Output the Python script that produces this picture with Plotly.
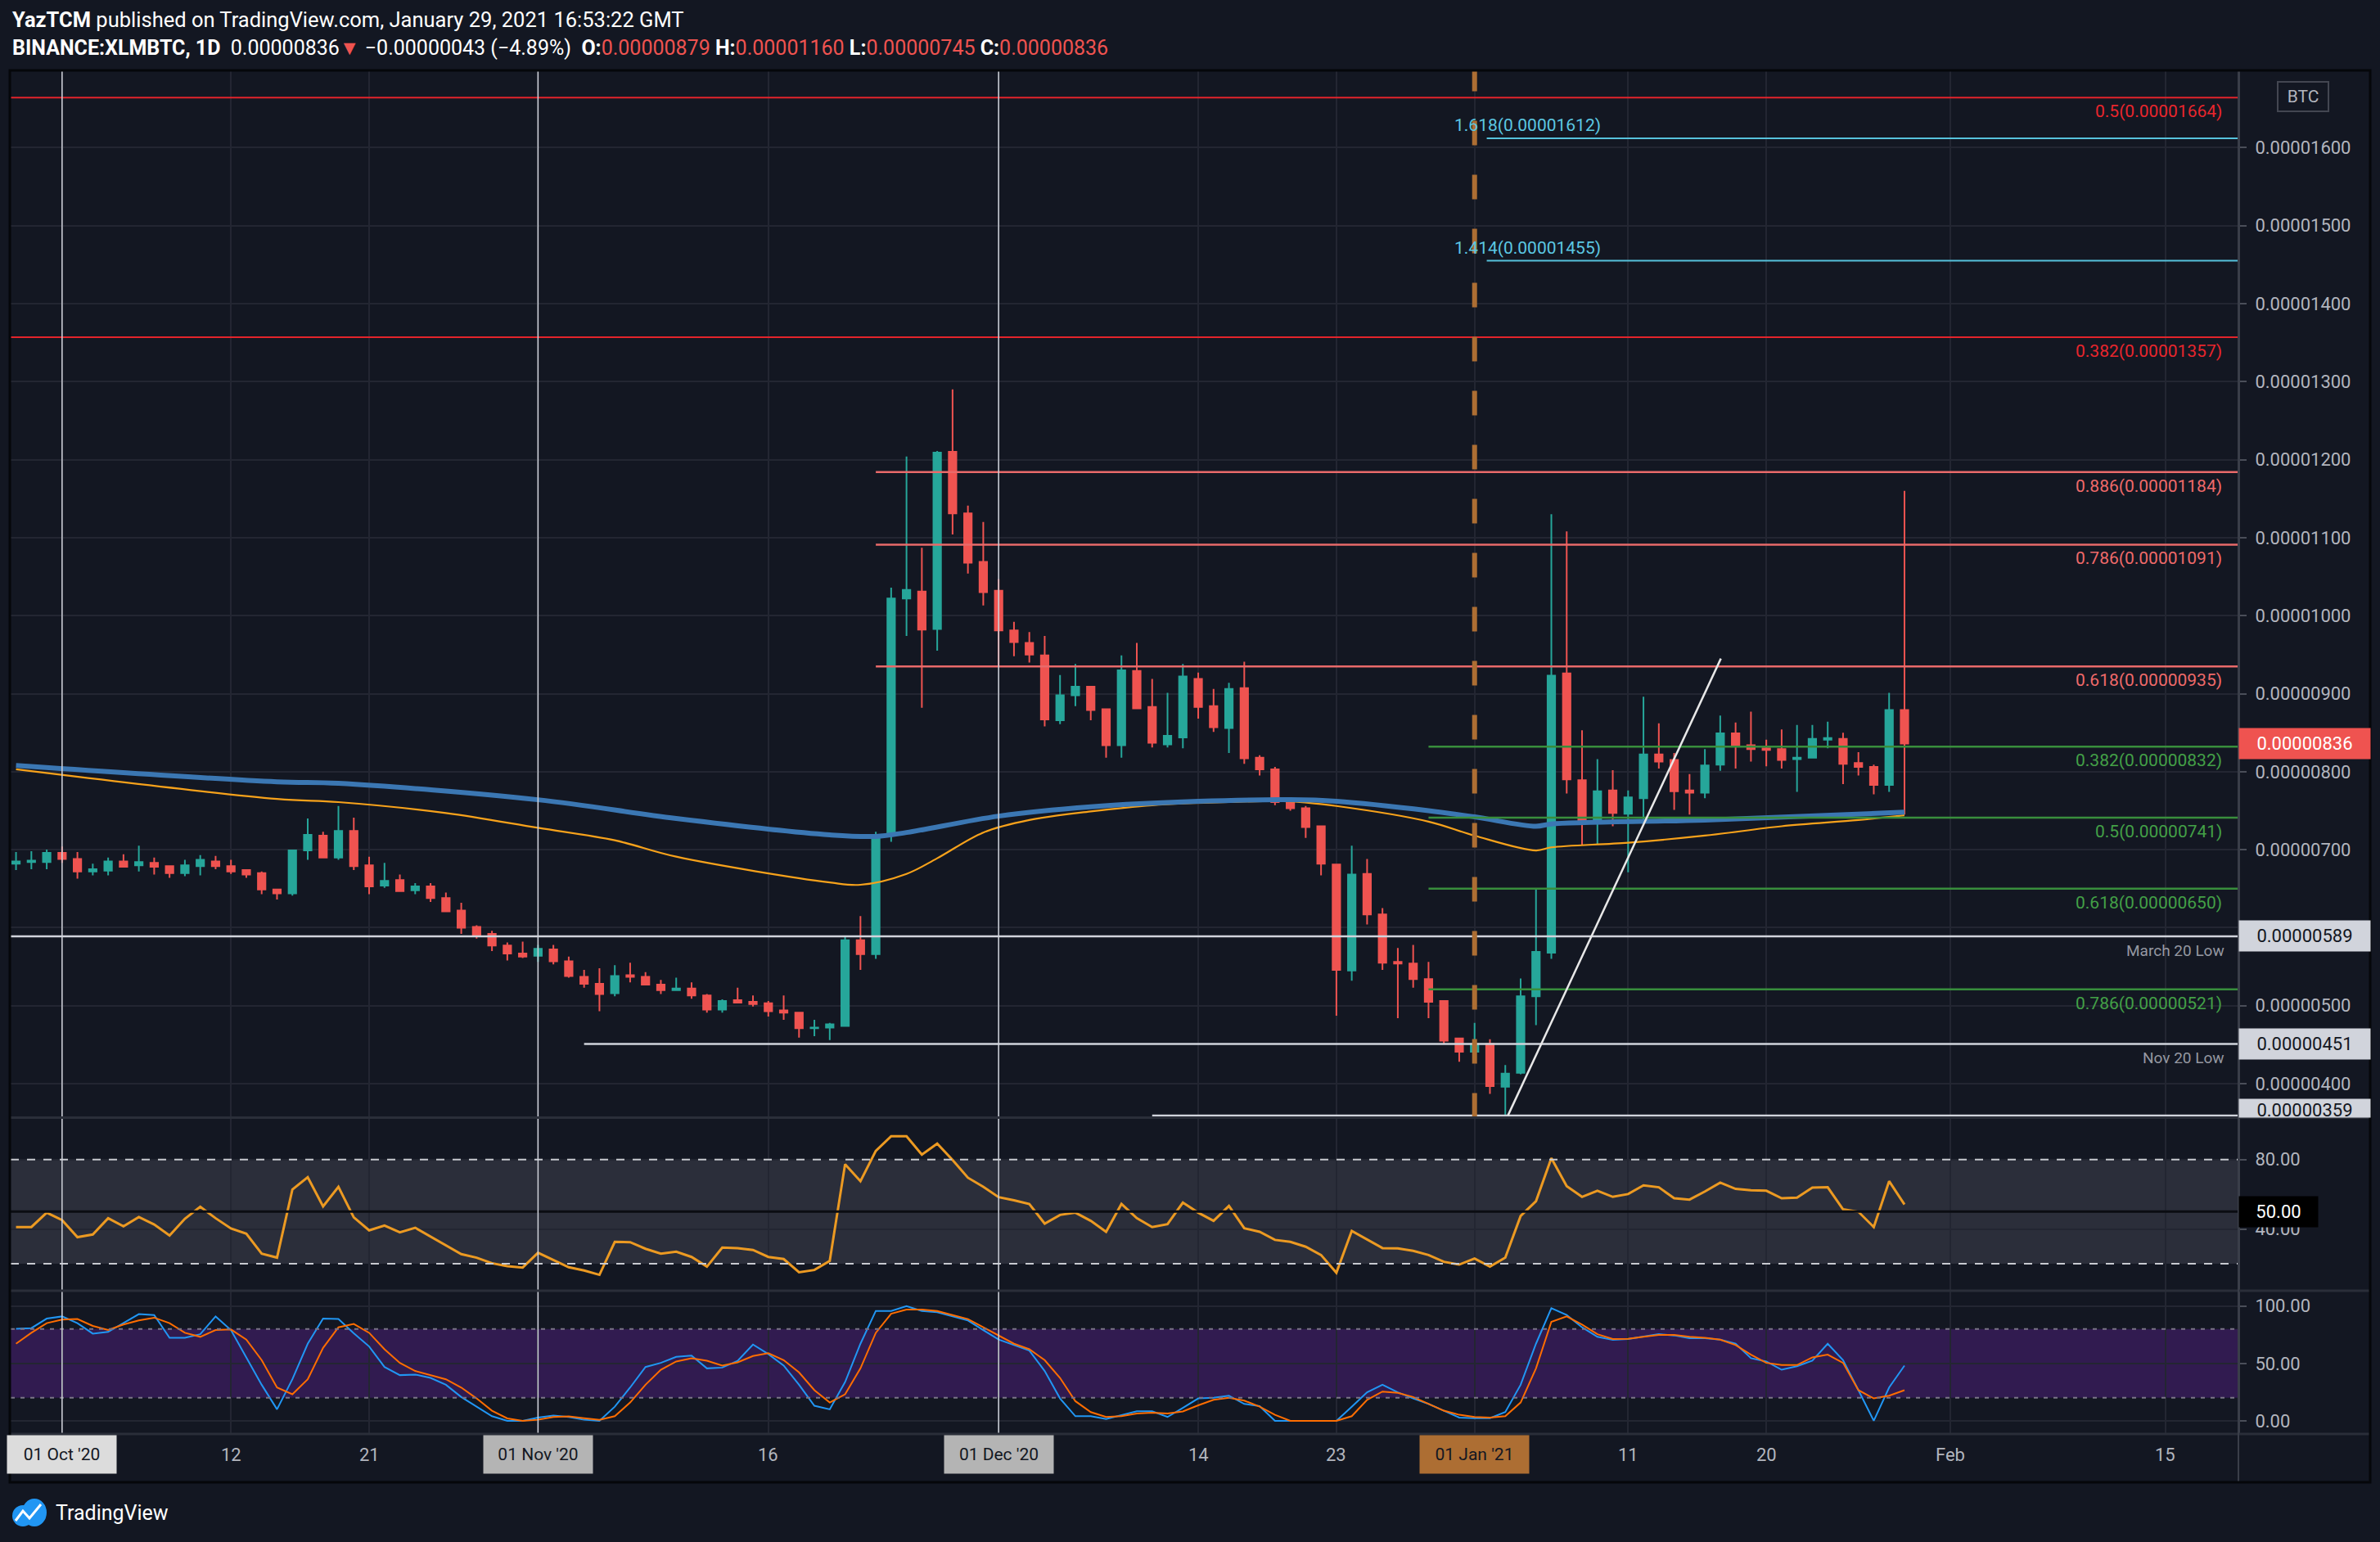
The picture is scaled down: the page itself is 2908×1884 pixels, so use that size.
import plotly.graph_objects as go
import pandas as pd

W, H = 2908, 1884
ML, MR, MT, MB = 13, 173, 86, 132
PW = W - ML - MR
PH = H - MT - MB


def px_x(px):
    return (px - ML) / PW


def px_y(py):
    return (H - MB - py) / PH


FONT = "Roboto"
BG = "#131722"
GRID = "#232632"
UP = "#26a69a"
DOWN = "#ef5350"

# ---------------- data (prices in satoshi) ----------------
dates = pd.date_range("2020-09-28", "2021-01-29", freq="D")

open_ = [682, 684, 684, 696, 688, 672, 673, 685, 680, 683,
         679, 670, 679, 685, 679, 674, 670, 649, 644, 699,
         718, 690, 724, 680, 654, 661, 648, 653, 638, 622,
         601, 592, 577, 567, 564, 572, 557, 537, 528, 516,
         539, 537, 527, 520, 522, 513, 495, 507, 505, 503,
         494, 491, 471, 472, 474, 584, 566, 722, 1022, 1031,
         983, 1210, 1131, 1069, 1032, 981, 965, 949, 866, 898,
         909, 880, 834, 929, 883, 835, 844, 919, 884, 856,
         907, 818, 803, 761, 753, 730, 681, 545, 669, 617,
         556, 554, 534, 506, 458, 441, 451, 396, 414, 512,
         568, 926, 789, 737, 776, 746, 766, 822, 815, 776,
         773, 809, 849, 834, 830, 829, 816, 818, 841, 842,
         811, 806, 783, 879]
high = [697, 698, 700, 704, 697, 682, 690, 694, 705, 690,
        680, 687, 693, 692, 687, 674, 672, 650, 700, 740,
        723, 756, 741, 691, 683, 668, 657, 657, 645, 632,
        603, 596, 581, 582, 578, 578, 563, 546, 548, 552,
        555, 543, 533, 536, 530, 515, 508, 523, 513, 506,
        513, 492, 482, 478, 589, 615, 723, 1036, 1204, 1087,
        1211, 1290, 1141, 1120, 1047, 992, 979, 974, 924, 938,
        910, 880, 949, 965, 919, 901, 938, 927, 906, 914,
        941, 821, 806, 765, 756, 731, 681, 705, 688, 625,
        574, 578, 556, 507, 458, 478, 457, 424, 535, 650,
        1130, 1108, 853, 816, 802, 776, 896, 862, 824, 797,
        829, 872, 863, 877, 841, 854, 860, 860, 864, 850,
        825, 809, 901, 1160]
low = [674, 675, 675, 683, 663, 667, 667, 677, 672, 668,
       664, 666, 667, 675, 669, 664, 643, 636, 641, 687,
       690, 687, 674, 643, 651, 646, 643, 633, 620, 592,
       586, 570, 558, 561, 556, 553, 536, 523, 493, 512,
       530, 526, 515, 519, 509, 491, 491, 503, 499, 486,
       482, 459, 461, 456, 473, 546, 560, 710, 974, 882,
       955, 1104, 1054, 1013, 934, 948, 940, 858, 861, 884,
       866, 818, 818, 880, 831, 831, 830, 868, 851, 824,
       810, 795, 757, 750, 715, 667, 487, 532, 604, 546,
       484, 523, 484, 451, 428, 437, 387, 359, 412, 475,
       560, 772, 706, 707, 730, 671, 737, 804, 751, 745,
       766, 801, 804, 813, 807, 804, 774, 817, 830, 784,
       795, 771, 774, 745]
close = [685, 686, 696, 688, 672, 675, 685, 678, 684, 678,
         670, 680, 687, 679, 672, 668, 649, 644, 699, 719,
         690, 724, 679, 653, 660, 647, 653, 638, 621, 600,
         590, 577, 567, 563, 573, 557, 538, 528, 515, 538,
         537, 527, 520, 522, 513, 495, 506, 504, 502, 493,
         491, 471, 472, 476, 584, 566, 719, 1022, 1033, 982,
         1209, 1131, 1068, 1030, 981, 966, 950, 867, 898, 909,
         879, 834, 930, 881, 837, 846, 922, 883, 857, 906,
         817, 803, 761, 753, 729, 682, 546, 668, 617, 555,
         554, 534, 505, 455, 441, 451, 397, 413, 512, 569,
         923, 790, 737, 775, 747, 767, 822, 813, 775, 773,
         808, 849, 833, 829, 828, 815, 818, 842, 843, 810,
         806, 783, 879, 836]

rsi = [41.1, 41.1, 49.4, 45.1, 35.3, 36.8, 46.2, 41.5, 46.9, 42.6,
       36.3, 45.9, 52.8, 46.2, 40.3, 37.3, 25.8, 23.5, 62.7, 69.8,
       53.0, 64.3, 46.7, 39.2, 42.0, 38.1, 40.7, 35.6, 30.5, 25.5,
       23.5, 20.3, 18.6, 17.8, 26.3, 22.2, 18.0, 16.1, 13.6, 32.6,
       32.4, 28.6, 25.8, 26.9, 23.9, 18.3, 29.3, 29.0, 27.9, 23.9,
       22.7, 15.1, 16.4, 21.6, 77.3, 67.5, 85.0, 93.4, 93.4, 82.8,
       89.1, 79.7, 69.5, 64.3, 58.3, 56.5, 54.4, 43.1, 48.1, 49.4,
       44.7, 38.4, 54.4, 46.2, 41.1, 42.8, 55.2, 49.4, 44.7, 53.3,
       40.4, 38.4, 33.7, 32.6, 29.8, 25.0, 14.8, 38.9, 34.1, 29.0,
       28.8, 27.4, 25.0, 21.1, 19.5, 23.0, 18.3, 23.5, 47.5, 56.0,
       80.8, 64.6, 58.5, 62.0, 58.5, 60.1, 65.1, 64.0, 57.7, 56.9,
       61.6, 66.7, 63.1, 62.3, 62.0, 57.7, 58.0, 63.8, 64.0, 51.3,
       49.9, 41.1, 67.5, 54.1]

stoch_k = [80.3, 80.8, 89.1, 91.0, 85.1, 76.0, 77.5, 85.1, 93.0, 92.2,
           72.4, 72.4, 75.5, 91.0, 79.1, 55.3, 31.4, 10.0, 36.2, 67.2,
           89.1, 88.7, 76.3, 64.8, 46.9, 39.8, 40.3, 37.4, 31.4, 20.7,
           12.3, 4.0, 0.0, 0.0, 2.8, 4.5, 3.3, 0.9, 0.0, 12.3,
           29.0, 46.9, 50.5, 55.8, 56.9, 45.7, 46.4, 52.2, 66.5, 58.2,
           48.1, 31.4, 13.1, 10.0, 33.8, 67.2, 95.8, 95.8, 100.0, 95.8,
           94.6, 91.0, 87.5, 79.1, 70.8, 66.0, 61.2, 43.4, 19.5, 4.0,
           4.0, 1.6, 5.2, 8.3, 8.3, 3.3, 11.2, 19.5, 20.0, 21.9,
           14.7, 12.8, 0.0, 0.0, 0.0, 0.0, 0.0, 12.3, 24.8, 31.4,
           24.8, 19.5, 14.7, 8.8, 2.8, 2.3, 2.3, 7.6, 31.4, 67.2,
           98.2, 92.2, 81.5, 73.2, 70.5, 71.3, 73.2, 75.5, 74.4, 72.0,
           72.0, 70.8, 67.2, 54.6, 51.7, 44.5, 47.6, 52.4, 67.2, 52.9,
           26.7, 0.0, 29.0, 48.1]
stoch_d = [67.2, 76.7, 85.1, 88.2, 88.7, 82.7, 79.1, 83.9, 87.5, 89.9,
           85.1, 76.7, 73.2, 79.1, 79.6, 70.8, 52.9, 29.0, 23.1, 36.2,
           63.6, 81.5, 84.4, 76.7, 62.4, 50.5, 43.4, 39.8, 36.2, 29.0,
           19.5, 8.8, 2.1, 0.0, 0.9, 3.3, 3.8, 2.3, 0.9, 4.0,
           15.9, 31.4, 44.5, 51.7, 54.5, 52.4, 48.1, 51.0, 56.5, 58.9,
           52.9, 42.2, 26.7, 15.9, 23.1, 45.7, 76.7, 93.4, 97.0, 97.0,
           95.8, 92.2, 88.7, 81.5, 74.4, 67.2, 62.4, 52.9, 37.4, 17.1,
           7.6, 3.3, 4.0, 6.4, 7.1, 6.4, 8.1, 13.5, 18.3, 20.0,
           17.6, 12.3, 5.2, 0.0, 0.0, 0.0, 0.0, 4.0, 18.3, 25.5,
           24.3, 20.7, 14.7, 8.8, 5.2, 3.3, 2.8, 4.0, 15.9, 45.7,
           86.3, 91.0, 83.9, 75.5, 71.3, 71.5, 73.2, 74.8, 74.8, 73.2,
           72.4, 70.8, 66.0, 57.7, 50.5, 48.6, 48.6, 55.3, 57.7, 50.5,
           26.7, 19.5, 21.9, 26.7]

ma_blue_dates = ["2020-09-28", "2020-10-15", "2020-10-19", "2020-11-01", "2020-11-10",
                 "2020-11-20", "2020-11-23", "2020-11-25", "2020-12-01", "2020-12-07",
                 "2020-12-14", "2020-12-20", "2020-12-23", "2020-12-29", "2021-01-01",
                 "2021-01-05", "2021-01-06", "2021-01-16", "2021-01-29"]
ma_blue = [808, 787, 785, 764, 740, 719, 717, 722, 743, 755,
           762, 764, 762, 750, 742, 730, 733, 738, 748]

ma_orange_dates = ["2020-09-28", "2020-10-15", "2020-10-19", "2020-10-26", "2020-11-01",
                   "2020-11-06", "2020-11-10", "2020-11-20", "2020-11-22", "2020-11-25",
                   "2020-11-27", "2020-11-30", "2020-12-03", "2020-12-07", "2020-12-11",
                   "2020-12-16", "2020-12-20", "2020-12-23", "2020-12-29", "2021-01-01",
                   "2021-01-05", "2021-01-06", "2021-01-11", "2021-01-16", "2021-01-21",
                   "2021-01-26", "2021-01-29"]
ma_orange = [803, 765, 761, 747, 728, 712, 691, 658, 655, 669,
             689, 722, 738, 749, 757, 761, 762, 756, 736, 718,
             699, 703, 709, 718, 730, 738, 744]

x_start = "2020-09-27 15:36"
x_end = "2021-02-19 18:00"

# fib / level lines
red_levels = [1664, 1357]
red_labels = ["0.5(0.00001664)", "0.382(0.00001357)"]
upper_fib_start = "2020-11-23"
upper_levels = [1184, 1091, 935]
upper_labels = ["0.886(0.00001184)", "0.786(0.00001091)", "0.618(0.00000935)"]
ext_start = "2021-01-01 19:00"
ext_label_at = "2020-12-30 14:00"
ext_levels = [1612, 1455]
ext_labels = ["1.618(0.00001612)", "1.414(0.00001455)"]
green_start = "2020-12-29"
green_levels = [832, 741, 650, 521]
green_labels = ["0.382(0.00000832)", "0.5(0.00000741)", "0.618(0.00000650)", "0.786(0.00000521)"]
support_levels = [589, 451, 359]
support_starts = [x_start, "2020-11-04", "2020-12-11"]
support_labels = ["March 20 Low", "Nov 20 Low", ""]

trend_dates = ["2021-01-03 04:00", "2021-01-17 01:00"]
trend_vals = [359, 945]

marker_dates = ["2020-10-01", "2020-11-01", "2020-12-01"]
marker_labels = ["01 Oct '20", "01 Nov '20", "01 Dec '20"]
marker_bg = ["#dcdcdc", "#b4b4b4", "#b4b4b4"]
year_date = "2021-01-01"
year_label = "01 Jan '21"

grid_dates = ["2020-10-01", "2020-10-12", "2020-10-21", "2020-11-01", "2020-11-16",
              "2020-12-01", "2020-12-14", "2020-12-23", "2021-01-01", "2021-01-11",
              "2021-01-20", "2021-02-01", "2021-02-15"]
tick_dates = ["2020-10-12", "2020-10-21", "2020-11-16", "2020-12-14", "2020-12-23",
              "2021-01-11", "2021-01-20", "2021-02-01", "2021-02-15"]
tick_texts = ["12", "21", "16", "14", "23", "11", "20", "Feb", "15"]

price_ticks = list(range(400, 1700, 100))
hidden_ticks = [600]  # covered by the 0.00000589 level tag
last_price = 836

# ---------------- figure ----------------
fig = go.Figure()

fig.add_trace(go.Candlestick(
    x=dates, open=open_, high=high, low=low, close=close,
    increasing=dict(line=dict(color=UP, width=2), fillcolor=UP),
    decreasing=dict(line=dict(color=DOWN, width=2), fillcolor=DOWN),
    whiskerwidth=0, xaxis="x", yaxis="y", hoverinfo="skip"))

fig.add_trace(go.Scatter(x=ma_orange_dates, y=ma_orange, mode="lines",
                         line=dict(color="#f7a21b", width=2.2, shape="spline"),
                         xaxis="x", yaxis="y", hoverinfo="skip"))
fig.add_trace(go.Scatter(x=ma_blue_dates, y=ma_blue, mode="lines",
                         line=dict(color="#3b77b3", width=6, shape="spline"),
                         xaxis="x", yaxis="y", hoverinfo="skip"))


def hlines(starts, levels, color, width):
    xs, ys = [], []
    for s, lv in zip(starts, levels):
        xs += [s, x_end, None]
        ys += [lv, lv, None]
    fig.add_trace(go.Scatter(x=xs, y=ys, mode="lines", line=dict(color=color, width=width),
                             xaxis="x", yaxis="y", hoverinfo="skip"))


hlines([x_start] * len(red_levels), red_levels, "#e3242b", 2)
hlines([upper_fib_start] * len(upper_levels), upper_levels, "#e96a6a", 2.5)
hlines([ext_start] * len(ext_levels), ext_levels, "#56c2dc", 2)
hlines([green_start] * len(green_levels), green_levels, "#388e3c", 2.5)
hlines(support_starts, support_levels, "#d1d4dc", 2.5)

fig.add_trace(go.Scatter(x=trend_dates, y=trend_vals, mode="lines",
                         line=dict(color="#e8e8e8", width=2.5),
                         xaxis="x", yaxis="y", hoverinfo="skip"))

# RSI
fig.add_trace(go.Scatter(x=dates, y=rsi, mode="lines", line=dict(color="#ec9a22", width=3),
                         xaxis="x2", yaxis="y2", hoverinfo="skip"))
# Stoch RSI
fig.add_trace(go.Scatter(x=dates, y=stoch_k, mode="lines", line=dict(color="#2196f3", width=2),
                         xaxis="x3", yaxis="y3", hoverinfo="skip"))
fig.add_trace(go.Scatter(x=dates, y=stoch_d, mode="lines", line=dict(color="#ff6d00", width=2),
                         xaxis="x3", yaxis="y3", hoverinfo="skip"))

d_main = px_y(1365.5)
d_stoch = px_y(1577)

axis_font = dict(family=FONT, size=22, color="#b2b5be")
xcommon = dict(type="date", showticklabels=False, tickvals=grid_dates, showgrid=True,
               gridcolor=GRID, gridwidth=2, zeroline=False, showline=False,
               rangeslider=dict(visible=False), fixedrange=True)
ycommon = dict(side="right", showgrid=True, gridcolor=GRID, gridwidth=2, zeroline=False,
               ticks="outside", ticklen=8, tickwidth=2, tickcolor="#4a4e59",
               tickfont=axis_font, showline=True, linecolor="#3a3e49", linewidth=2,
               ticklabelstandoff=6, fixedrange=True)

fig.update_layout(
    width=W, height=H, margin=dict(l=ML, r=MR, t=MT, b=MB),
    paper_bgcolor=BG, plot_bgcolor=BG, showlegend=False,
    xaxis=dict(domain=[0, 1], anchor="y", range=[x_start, x_end], **xcommon),
    xaxis2=dict(domain=[0, 1], anchor="y2", matches="x", **xcommon),
    xaxis3=dict(domain=[0, 1], anchor="y3", matches="x", **xcommon),
    yaxis=dict(domain=[d_main, 1], anchor="x", range=[356.5, 1699],
               tickvals=price_ticks,
               ticktext=["" if v in hidden_ticks else f"{v / 1e8:.8f}" for v in price_ticks],
               **ycommon),
    yaxis2=dict(domain=[d_stoch, d_main], anchor="x2", range=[4.45, 104.1],
                tickvals=[40, 80], ticktext=["40.00", "80.00"], **ycommon),
    yaxis3=dict(domain=[0, d_stoch], anchor="x3", range=[-11.5, 113.4],
                tickvals=[0, 50, 100], ticktext=["0.00", "50.00", "100.00"], **ycommon),
)

shapes = []
# RSI band
shapes.append(dict(type="rect", xref="paper", yref="y2", x0=0, x1=1, y0=20, y1=80,
                   fillcolor="#2b2e3a", line=dict(width=0), layer="below"))
for lv in (20, 80):
    shapes.append(dict(type="line", xref="paper", yref="y2", x0=0, x1=1, y0=lv, y1=lv,
                       line=dict(color="#c8cad0", width=2, dash="10px,10px")))
shapes.append(dict(type="line", xref="paper", yref="y2", x0=0, x1=1, y0=50, y1=50,
                   line=dict(color="#0b0d12", width=3)))
# Stoch band
shapes.append(dict(type="rect", xref="paper", yref="y3", x0=0, x1=1, y0=20, y1=80,
                   fillcolor="#311b50", line=dict(width=0), layer="below"))
for lv in (20, 80):
    shapes.append(dict(type="line", xref="paper", yref="y3", x0=0, x1=1, y0=lv, y1=lv,
                       line=dict(color="#7a7486", width=2, dash="5px,7px")))
# vertical marker lines
for md in marker_dates:
    shapes.append(dict(type="line", xref="x", yref="paper", x0=md, x1=md, y0=0, y1=1,
                       line=dict(color="#d1d4dc", width=1.5)))
shapes.append(dict(type="line", xref="x", yref="y domain", x0=year_date, x1=year_date, y0=0, y1=1,
                   line=dict(color="#ad6e33", width=6, dash="30px,36px")))
# pane separators & frame
for py in (1365.5, 1577, 1752):
    shapes.append(dict(type="line", xref="paper", yref="paper", x0=px_x(13), x1=px_x(2895),
                       y0=px_y(py), y1=px_y(py), line=dict(color="#2a2e39", width=3)))
shapes.append(dict(type="line", xref="paper", yref="paper", x0=px_x(2735), x1=px_x(2735),
                   y0=px_y(86), y1=px_y(1811), line=dict(color="#3a3e49", width=2)))
shapes.append(dict(type="rect", xref="paper", yref="paper", x0=px_x(12), x1=px_x(2896),
                   y0=px_y(86), y1=px_y(1811), line=dict(color="#05070a", width=3)))
# logo
shapes.append(dict(type="circle", xref="paper", yref="paper", x0=px_x(15), x1=px_x(41),
                   y0=px_y(1865), y1=px_y(1839), fillcolor="#2196f3", line=dict(width=0)))
shapes.append(dict(type="circle", xref="paper", yref="paper", x0=px_x(27), x1=px_x(57),
                   y0=px_y(1865), y1=px_y(1831), fillcolor="#2196f3", line=dict(width=0)))
shapes.append(dict(type="path", xref="paper", yref="paper",
                   path=(f"M {px_x(19)} {px_y(1858)} L {px_x(28)} {px_y(1846)} "
                         f"L {px_x(36)} {px_y(1855)} L {px_x(50)} {px_y(1838)}"),
                   line=dict(color="white", width=3)))
fig.update_layout(shapes=shapes)

ann = []
# header
ann.append(dict(xref="paper", yref="paper", x=px_x(13), y=px_y(24), xanchor="left", yanchor="middle",
                showarrow=False, font=dict(family=FONT, size=25.5, color="#ffffff"),
                text="<b>YazTCM</b> published on TradingView.com, January 29, 2021 16:53:22 GMT"))
R = "#ef5350"
hdr2 = ("<b>BINANCE:XLMBTC, 1D</b>  0.00000836"
        f"<span style='color:{R}'>▼</span> −0.00000043 (−4.89%)  "
        f"<b>O:</b><span style='color:{R}'>0.00000879</span> "
        f"<b>H:</b><span style='color:{R}'>0.00001160</span> "
        f"<b>L:</b><span style='color:{R}'>0.00000745</span> "
        f"<b>C:</b><span style='color:{R}'>0.00000836</span>")
ann.append(dict(xref="paper", yref="paper", x=px_x(13), y=px_y(59), xanchor="left", yanchor="middle",
                showarrow=False, font=dict(family=FONT, size=25, color="#ffffff"), text=hdr2))

lab_font = 21
for lv, t in zip(red_levels, red_labels):
    ann.append(dict(xref="paper", yref="y", x=px_x(2717), y=lv, xanchor="right", yanchor="top",
                    yshift=-3, showarrow=False, text=t,
                    font=dict(family=FONT, size=lab_font, color="#e8262d")))
for lv, t in zip(upper_levels, upper_labels):
    ann.append(dict(xref="paper", yref="y", x=px_x(2717), y=lv, xanchor="right", yanchor="top",
                    yshift=-3, showarrow=False, text=t,
                    font=dict(family=FONT, size=lab_font, color="#ef6a6a")))
for lv, t in zip(green_levels, green_labels):
    ann.append(dict(xref="paper", yref="y", x=px_x(2717), y=lv, xanchor="right", yanchor="top",
                    yshift=-3, showarrow=False, text=t,
                    font=dict(family=FONT, size=lab_font, color="#43a047")))
for lv, t in zip(ext_levels, ext_labels):
    ann.append(dict(xref="x", yref="y", x=ext_label_at, y=lv, xanchor="left", yanchor="bottom",
                    yshift=2, showarrow=False, text=t,
                    font=dict(family=FONT, size=lab_font, color="#5cc8e2")))
for lv, t in zip(support_levels, support_labels):
    if t:
        ann.append(dict(xref="paper", yref="y", x=px_x(2720), y=lv, xanchor="right", yanchor="top",
                        yshift=-4, showarrow=False, text=t,
                        font=dict(family=FONT, size=19, color="#9598a1")))

# price axis boxes
ann.append(dict(xref="paper", yref="y", x=1, y=last_price, xanchor="left", yanchor="middle",
                width=158, height=35, showarrow=False, bgcolor=R, text=f"{last_price / 1e8:.8f}",
                font=dict(family=FONT, size=22, color="#ffffff"), align="center"))
for lv in support_levels[:2]:
    ann.append(dict(xref="paper", yref="y", x=1, y=lv, xanchor="left", yanchor="middle",
                    width=158, height=35, showarrow=False, bgcolor="#d1d4dc", text=f"{lv / 1e8:.8f}",
                    font=dict(family=FONT, size=22, color="#131722"), align="center"))
ann.append(dict(xref="paper", yref="y", x=1, y=356.5, xanchor="left", yanchor="bottom",
                width=158, height=20, valign="top", showarrow=False, bgcolor="#d1d4dc",
                text=f"{support_levels[2] / 1e8:.8f}",
                font=dict(family=FONT, size=22, color="#131722"), align="center"))
ann.append(dict(xref="paper", yref="y2", x=1, y=50, xanchor="left", yanchor="middle",
                width=94, height=35, showarrow=False, bgcolor="#000000", text="50.00",
                font=dict(family=FONT, size=22, color="#ffffff"), align="center"))
ann.append(dict(xref="paper", yref="paper", x=px_x(2814), y=px_y(118), xanchor="center", yanchor="middle",
                width=58, height=32, showarrow=False, bgcolor=BG, bordercolor="#434651", borderwidth=2,
                text="BTC", font=dict(family=FONT, size=21, color="#b2b5be")))

# x-axis labels
for d, t in zip(tick_dates, tick_texts):
    ann.append(dict(xref="x3", yref="paper", x=d, y=px_y(1777), xanchor="center", yanchor="middle",
                    showarrow=False, text=t, font=dict(family=FONT, size=22, color="#b2b5be")))
for d, t, bgc in zip(marker_dates, marker_labels, marker_bg):
    ann.append(dict(xref="x3", yref="paper", x=d, y=px_y(1777), xanchor="center", yanchor="middle",
                    width=131, height=44, showarrow=False, bgcolor=bgc, text=t,
                    font=dict(family=FONT, size=21, color="#131722")))
ann.append(dict(xref="x3", yref="paper", x=year_date, y=px_y(1777), xanchor="center", yanchor="middle",
                width=131, height=44, showarrow=False, bgcolor="#ad6e33", text=year_label,
                font=dict(family=FONT, size=21, color="#131722")))

ann.append(dict(xref="paper", yref="paper", x=px_x(66), y=px_y(1848), xanchor="left", yanchor="middle",
                showarrow=False, text="TradingView", font=dict(family=FONT, size=25, color="#ffffff")))

fig.update_layout(annotations=ann)
fig.write_html("out.html")
